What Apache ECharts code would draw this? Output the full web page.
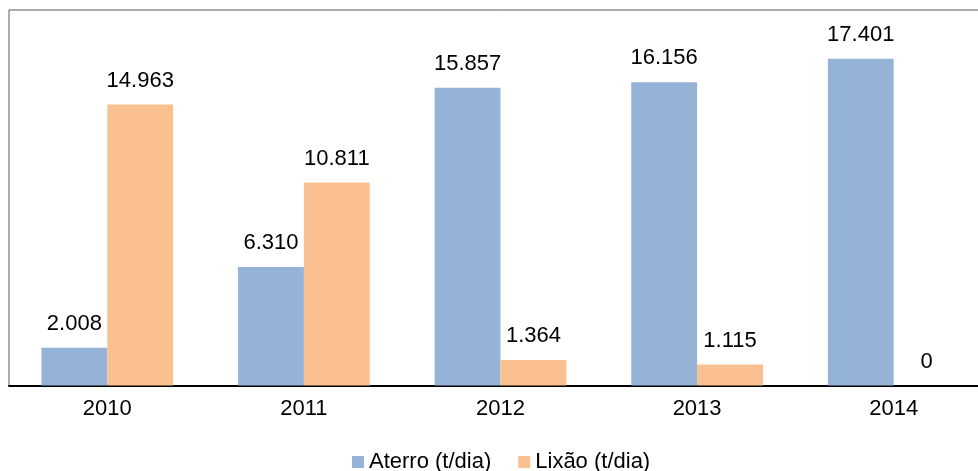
<!DOCTYPE html>
<html>
<head>
<meta charset="utf-8">
<script src="https://cdn.jsdelivr.net/npm/echarts@6/dist/echarts.min.js"></script>
<style>
  html, body { margin: 0; padding: 0; background: #fff; overflow: hidden; }
  /* The plot frame runs past the right edge of the window, so the canvas is wider than the view */
  #chart { width: 1000px; height: 471px; }
</style>
</head>
<body>
<div id="chart"></div>
<script>
// Destinação de resíduos por ano (t/dia)
const years = ['2010', '2011', '2012', '2013', '2014'];
const aterro = [2008, 6310, 15857, 16156, 17401];
const lixao = [14963, 10811, 1364, 1115, 0];
const seriesNames = ['Aterro (t/dia)', 'Lixão (t/dia)'];

const FONT = 'Liberation Sans, Arial, sans-serif';

// Thousands separator with a dot (pt-BR style)
function fmt(v) {
  return String(v).replace(/\B(?=(\d{3})+(?!\d))/g, '.');
}

const chart = echarts.init(document.getElementById('chart'), null, { renderer: 'canvas' });

const labelStyle = {
  show: true,
  position: 'top',
  distance: 13,
  color: '#000',
  fontFamily: FONT,
  fontSize: 22,
  formatter: p => fmt(p.value)
};

chart.setOption({
  animation: false,
  backgroundColor: '#fff',
  textStyle: { fontFamily: FONT },
  grid: {
    left: 9,
    top: 10,
    width: 983,
    height: 375.5,
    show: true,
    borderColor: '#595959',
    borderWidth: 1,
    containLabel: false
  },
  legend: {
    left: 347,
    top: 446,
    icon: 'rect',
    itemWidth: 12,
    itemHeight: 12,
    itemGap: 27,
    textStyle: { color: '#000', fontSize: 22, fontFamily: FONT },
    data: seriesNames
  },
  xAxis: {
    type: 'category',
    data: years,
    axisLine: { show: true, lineStyle: { color: '#000', width: 2 } },
    axisTick: { show: false },
    axisLabel: { color: '#000', fontSize: 22, fontFamily: FONT, margin: 12 },
    splitLine: { show: false }
  },
  yAxis: {
    type: 'value',
    min: 0,
    max: 20000,
    show: false,
    splitLine: { show: false }
  },
  series: [
    {
      name: seriesNames[0],
      type: 'bar',
      data: aterro,
      barGap: '0%',
      barCategoryGap: '33%',
      itemStyle: { color: '#95B3D7' },
      label: labelStyle
    },
    {
      name: seriesNames[1],
      type: 'bar',
      data: lixao,
      barGap: '0%',
      barCategoryGap: '33%',
      itemStyle: { color: '#FAC090' },
      label: labelStyle
    }
  ]
});
</script>
</body>
</html>
